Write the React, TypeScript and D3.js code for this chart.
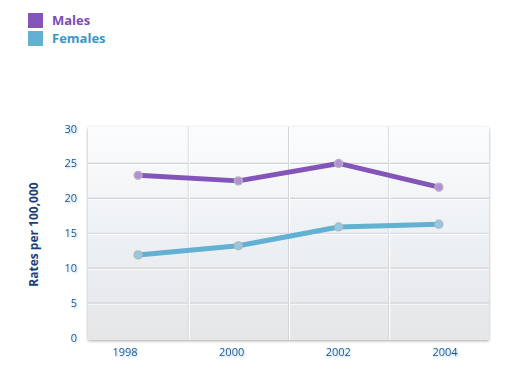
import React from "react";
import * as d3 from "d3";

const years = ["1998", "2000", "2002", "2004"];
const males = [23.3, 22.5, 25.0, 21.6];
const females = [11.9, 13.2, 15.9, 16.3];
const yTicks = [0, 5, 10, 15, 20, 25, 30];
const seriesNames = ["Males", "Females"];
const seriesColors = ["#8455b8", "#62b0d2"];
const markerFills = ["#b48fd8", "#8fcbe3"];
const legendTextColors = ["#7a4db3", "#3796c6"];

export default function App() {
  const W = 509, H = 380;
  const left = 88, right = 489, top = 127, bottom = 338;
  const x = d3.scaleBand<string>().domain(years).range([left, right]).padding(0);
  const xLabel = d3.scalePoint<string>().domain(years).range([125, 445]);
  const y = d3.scaleLinear().domain([0, 30]).range([bottom, top + 1.5]);
  const line = d3.line<number>().x((_, i) => (x(years[i]) as number) + x.bandwidth() / 2).y(d => y(d));
  const series = [males, females];
  const font = "'Open Sans', 'DejaVu Sans', sans-serif";
  return (
    <svg width={W} height={H} style={{ position: "absolute", left: 0, top: 0 }}>
      <defs>
        <linearGradient id="bg" x1="0" y1="0" x2="0" y2="1">
          <stop offset="0" stopColor="#fbfcfd" />
          <stop offset="0.5" stopColor="#eef1f4" />
          <stop offset="1" stopColor="#e4e6e8" />
        </linearGradient>
        <filter id="sh" x="-5%" y="-5%" width="110%" height="110%">
          <feGaussianBlur in="SourceAlpha" stdDeviation="1.5" />
          <feOffset dx="0" dy="1" />
          <feComponentTransfer><feFuncA type="linear" slope="0.35" /></feComponentTransfer>
          <feMerge><feMergeNode /><feMergeNode in="SourceGraphic" /></feMerge>
        </filter>
        <filter id="glow" x="-30%" y="-30%" width="160%" height="160%">
          <feGaussianBlur in="SourceAlpha" stdDeviation="0.8" result="b" />
          <feOffset in="b" dx="1" dy="1" result="o" />
          <feFlood floodColor="#7cc4e8" floodOpacity="0.8" />
          <feComposite operator="in" in2="o" />
          <feMerge><feMergeNode /><feMergeNode in="SourceGraphic" /></feMerge>
        </filter>
      </defs>
      {/* legend */}
      {seriesNames.map((n, i) => (
        <g key={n}>
          <rect x={28} y={13 + i * 18} width={15} height={15} fill={seriesColors[i]} />
          <text x={52} y={25 + i * 18} fontFamily={font} fontWeight="bold" fontSize={13} fill={legendTextColors[i]}>{n}</text>
        </g>
      ))}
      {/* plot bg */}
      <rect x={left} y={top} width={right - left} height={bottom - top + 2} fill="url(#bg)" filter="url(#sh)" />
      {yTicks.slice(1, -1).map(t => (
        <g key={t}>
          <line x1={left} x2={right} y1={y(t)} y2={y(t)} stroke="#cfd2d5" strokeWidth={1.2} />
          <line x1={left} x2={right} y1={y(t) + 1.2} y2={y(t) + 1.2} stroke="#ffffff" strokeWidth={0.8} />
        </g>
      ))}
      {years.slice(1).map(yr => (
        <g key={yr}>
          <line x1={x(yr) as number} x2={x(yr) as number} y1={top} y2={bottom + 2} stroke="#d3d5d8" strokeWidth={1} />
          <line x1={(x(yr) as number) + 1} x2={(x(yr) as number) + 1} y1={top} y2={bottom + 2} stroke="#ffffff" strokeWidth={1} />
        </g>
      ))}
      {/* y ticks */}
      {yTicks.map(t => (
        <text key={t} x={77} y={y(t) + 4} textAnchor="end" fontFamily={font} fontSize={11} fill="#1f4d8a" filter="url(#glow)">{t}</text>
      ))}
      {years.map(yr => (
        <text key={yr} x={xLabel(yr) as number} y={356} textAnchor="middle" fontFamily={font} fontSize={11} fill="#1f4d8a" filter="url(#glow)">{yr}</text>
      ))}
      <text transform={`translate(38,${(top + bottom) / 2 + 2}) rotate(-90)`} textAnchor="middle" fontFamily={font} fontWeight="bold" fontSize={12} fill="#1c3f78">Rates per 100,000</text>
      {/* lines */}
      {series.map((s, i) => (
        <g key={i}>
          <path d={line(s) || ""} fill="none" stroke={seriesColors[i]} strokeWidth={5} strokeLinejoin="round" />
          {s.map((v, j) => (
            <circle key={j} cx={(x(years[j]) as number) + x.bandwidth() / 2} cy={y(v)} r={4} fill={markerFills[i]} stroke="#b4b4bc" strokeWidth={1.3} />
          ))}
        </g>
      ))}
    </svg>
  );
}
